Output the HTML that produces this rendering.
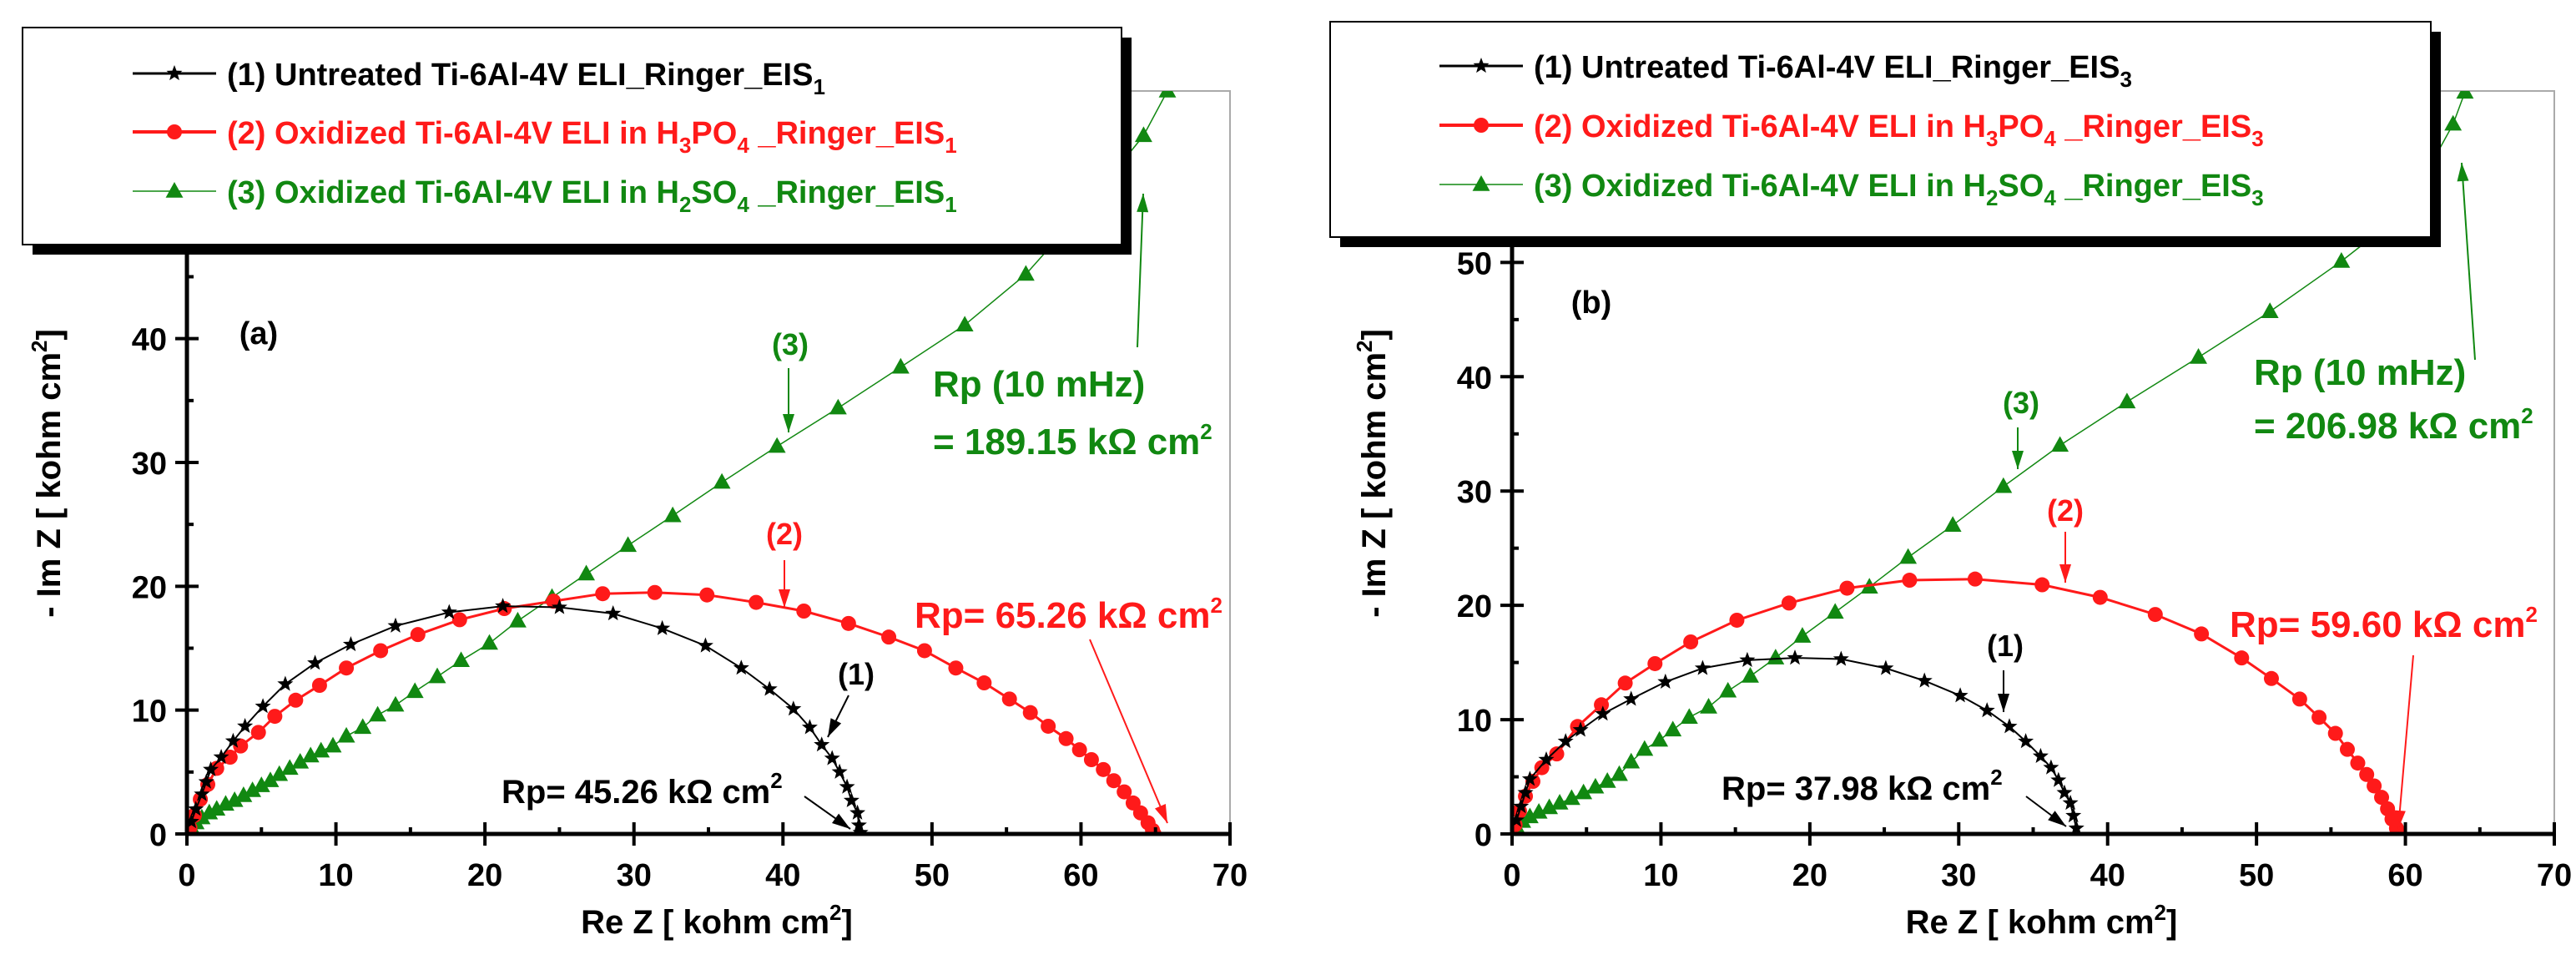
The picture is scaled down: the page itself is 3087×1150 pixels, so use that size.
<!DOCTYPE html>
<html><head><meta charset="utf-8"><style>
html,body{margin:0;padding:0;background:#fff;}
svg{display:block;font-family:"Liberation Sans",Arial,sans-serif;font-weight:bold;}
</style></head><body>
<svg id="c" width="3087" height="1150" viewBox="0 0 3087 1150"></svg>
<script>
// ---- Panel (a) data ----
const aUntreatedRe=[0.3,0.6,1.0,1.3,1.6,2.3,3.1,3.9,5.1,6.6,8.6,11.0,14.0,17.6,21.2,25.0,28.6,31.9,34.8,37.2,39.1,40.7,41.8,42.6,43.3,43.8,44.3,44.6,45.0,45.1,45.2];
const aUntreatedIm=[1.0,2.0,3.2,4.2,5.2,6.2,7.5,8.7,10.3,12.1,13.8,15.3,16.8,17.9,18.4,18.3,17.8,16.6,15.2,13.4,11.7,10.1,8.6,7.2,6.1,5.0,3.8,2.7,1.7,0.7,0.1];
const aH3PO4Re=[0.2,0.5,0.9,1.4,2.0,2.9,3.6,4.8,5.9,7.3,8.9,10.7,13.0,15.5,18.3,21.3,24.6,27.9,31.4,34.9,38.2,41.4,44.4,47.1,49.5,51.6,53.5,55.2,56.6,57.8,59.0,59.9,60.7,61.5,62.2,62.9,63.5,64.0,64.5,64.8,64.9];
const aH3PO4Im=[0.5,1.5,2.8,4.0,5.3,6.2,7.1,8.2,9.5,10.8,12.0,13.4,14.8,16.1,17.3,18.2,18.8,19.4,19.5,19.3,18.7,18.0,17.0,15.9,14.8,13.4,12.2,10.9,9.8,8.7,7.7,6.8,6.0,5.2,4.3,3.4,2.5,1.7,0.9,0.3,0.0];
const aH2SO4Re=[0.3,0.6,1.0,1.5,2.0,2.6,3.2,3.8,4.4,5.0,5.6,6.2,6.9,7.6,8.3,9.0,9.8,10.7,11.8,12.8,14.0,15.3,16.8,18.4,20.3,22.2,24.5,26.8,29.6,32.6,35.9,39.6,43.7,47.9,52.2,56.3,60.3,64.2,65.8];
const aH2SO4Im=[0.5,0.9,1.3,1.7,2.0,2.4,2.7,3.1,3.5,3.9,4.3,4.8,5.3,5.8,6.3,6.7,7.1,7.9,8.6,9.6,10.4,11.5,12.7,14.0,15.4,17.2,19.1,21.0,23.3,25.7,28.4,31.3,34.4,37.7,41.1,45.2,50.6,56.4,60.0];
// ---- Panel (b) data ----
const bUntreatedRe=[0.3,0.6,0.9,1.2,2.3,3.6,4.6,6.1,8.0,10.3,12.8,15.8,19.0,22.1,25.1,27.7,30.1,31.9,33.4,34.5,35.5,36.2,36.7,37.1,37.5,37.7,37.9];
const bUntreatedIm=[1.2,2.4,3.6,4.8,6.5,8.1,9.1,10.5,11.8,13.3,14.5,15.2,15.4,15.3,14.5,13.4,12.1,10.8,9.4,8.1,6.8,5.8,4.7,3.6,2.7,1.6,0.5];
const bH3PO4Re=[0.2,0.5,0.9,1.4,2.0,3.0,4.4,6.0,7.6,9.6,12.0,15.1,18.6,22.5,26.7,31.1,35.6,39.5,43.2,46.3,49.0,51.0,52.9,54.2,55.3,56.1,56.8,57.4,57.9,58.4,58.8,59.1,59.4,59.5];
const bH3PO4Im=[0.8,2.0,3.3,4.6,5.8,7.0,9.4,11.3,13.2,14.9,16.8,18.7,20.2,21.5,22.2,22.3,21.8,20.7,19.2,17.5,15.4,13.6,11.8,10.2,8.8,7.4,6.2,5.2,4.2,3.2,2.2,1.3,0.5,0.1];
const bH2SO4Re=[0.3,0.7,1.2,1.8,2.5,3.2,4.0,4.8,5.6,6.4,7.2,8.0,8.9,9.9,10.8,11.9,13.2,14.5,16.0,17.7,19.5,21.7,24.0,26.6,29.6,33.0,36.8,41.3,46.1,50.9,55.7,60.0,63.2,64.0];
const bH2SO4Im=[0.6,1.1,1.5,1.9,2.3,2.7,3.1,3.6,4.1,4.6,5.2,6.3,7.4,8.2,9.1,10.2,11.1,12.5,13.8,15.4,17.3,19.4,21.6,24.2,27.0,30.4,34.0,37.8,41.7,45.7,50.1,54.5,62.1,64.9];
const xTicks=[0,10,20,30,40,50,60,70];
const aYTicks=[0,10,20,30,40];
const bYTicks=[0,10,20,30,40,50];

const NS="http://www.w3.org/2000/svg";
const svg=document.getElementById('c');
function mk(tag,attrs,parent,text){const e=document.createElementNS(NS,tag);for(const k in attrs)e.setAttribute(k,attrs[k]);if(text!==undefined)e.textContent=text;(parent||svg).appendChild(e);return e;}
function star(cx,cy,r){let p=[];for(let i=0;i<10;i++){const a=-Math.PI/2+i*Math.PI/5;const rr=i%2?r*0.42:r;p.push((cx+rr*Math.cos(a)).toFixed(1)+','+(cy+rr*Math.sin(a)).toFixed(1));}return p.join(' ');}
function tri(cx,cy,r){return `${cx},${cy-r} ${cx-r*0.95},${cy+r*0.7} ${cx+r*0.95},${cy+r*0.7}`;}
function arrow(g,x1,y1,x2,y2,col){
  mk('line',{x1:x1,y1:y1,x2:x2,y2:y2,stroke:col,'stroke-width':2},g);
  const a=Math.atan2(y2-y1,x2-x1),L=22,W=7;
  const bx=x2-L*Math.cos(a),by=y2-L*Math.sin(a);
  mk('polygon',{points:`${x2},${y2} ${bx+W*Math.sin(a)},${by-W*Math.cos(a)} ${bx-W*Math.sin(a)},${by+W*Math.cos(a)}`,fill:col},g);
}
function panel(P){
  const g=mk('g',{});
  
  
  const X=v=>P.x0+(v/70)*(P.x1-P.x0);
  const Y=v=>P.y0-(v/P.ymax)*(P.y0-P.ytop);
  const cid='clip'+P.id;
  const cp=mk('clipPath',{id:cid},g);mk('rect',{x:P.x0,y:P.ytop,width:P.x1-P.x0,height:P.y0-P.ytop},cp);
  const fr=mk('rect',{x:P.x0,y:P.ytop,width:P.x1-P.x0,height:P.y0-P.ytop,fill:'none',stroke:'#aaa','stroke-width':2},g);
  
  const series=[
    {re:P.s3re,im:P.s3im,col:'#118811',w:1.5,m:'tri',name:'series-h2so4'},
    {re:P.s2re,im:P.s2im,col:'#ff1a1a',w:3,m:'circ',name:'series-h3po4'},
    {re:P.s1re,im:P.s1im,col:'#000',w:2,m:'star',name:'series-untreated'}];
  series.forEach(s=>{
    const sg=mk('g',{'clip-path':`url(#${cid})`},g);
    
    mk('polyline',{points:s.re.map((r,i)=>X(r).toFixed(1)+','+Y(s.im[i]).toFixed(1)).join(' '),fill:'none',stroke:s.col,'stroke-width':s.w},sg);
    s.re.forEach((r,i)=>{const cx=X(r),cy=Y(s.im[i]);let e;
      if(s.m==='circ')e=mk('circle',{cx:cx,cy:cy,r:9,fill:s.col},sg);
      else if(s.m==='tri')e=mk('polygon',{points:tri(cx,cy,11),fill:s.col},sg);
      else e=mk('polygon',{points:star(cx,cy,10),fill:s.col},sg);
      });
  });
  const ax=mk('g',{},g);
  mk('line',{x1:P.x0,y1:P.y0,x2:P.x1,y2:P.y0,stroke:'#000','stroke-width':5},ax);
  mk('line',{x1:P.x0,y1:P.y0,x2:P.x0,y2:P.ytop,stroke:'#000','stroke-width':5},ax);
  for(let v=0;v<=70;v+=5){const x=X(v);const maj=v%10===0;mk('line',{x1:x,y1:P.y0-(maj?14:8),x2:x,y2:P.y0+(maj?14:0),stroke:'#000','stroke-width':4},ax);}
  for(let v=0;v<=P.ymax;v+=5){const y=Y(v);const maj=v%10===0;mk('line',{x1:P.x0-(maj?14:0),y1:y,x2:P.x0+(maj?14:8),y2:y,stroke:'#000','stroke-width':4},ax);}
  xTicks.forEach(v=>{const t=mk('text',{x:X(v),y:P.y0+62,'text-anchor':'middle','font-size':38},ax,String(v));});
  P.yt.forEach(v=>{const t=mk('text',{x:P.x0-24,y:Y(v)+14,'text-anchor':'end','font-size':38},ax,String(v));});
  const xt=mk('text',{x:(P.x0+P.x1)/2+10,y:1118,'text-anchor':'middle','font-size':40},g);
  xt.innerHTML='Re Z [ kohm cm<tspan dy="-16" font-size="26">2</tspan><tspan dy="16">]</tspan>';
  
  const yt=mk('text',{x:0,y:0,'text-anchor':'middle','font-size':40,transform:`translate(${P.ytx},567) rotate(-90)`},g);
  yt.innerHTML='- Im Z [ kohm cm<tspan dy="-16" font-size="26">2</tspan><tspan dy="16">]</tspan>';
  
  const an=mk('g',{},g);
  mk('text',{x:P.lab[0],y:P.lab[1],'font-size':38,'text-anchor':'middle'},an,P.label);
  P.ann.forEach(a=>{
    const t=mk('text',{x:a.x,y:a.y,fill:a.c,'font-size':a.fs,'text-anchor':a.anc||'start'},an);
    t.innerHTML=a.t;
    
    if(a.ar)arrow(an,a.ar[0],a.ar[1],a.ar[2],a.ar[3],a.c);
  });
  const lg=mk('g',{},g);
  const L=P.leg;
  mk('rect',{x:L.x+12,y:L.y+12,width:L.w,height:L.h,fill:'#000'},lg);
  mk('rect',{x:L.x,y:L.y,width:L.w,height:L.h,fill:'#fff',stroke:'#000','stroke-width':2},lg);
  const rows=[
    {c:'#000',m:'star',w:3,t:`(1) Untreated Ti-6Al-4V ELI_Ringer_EIS<tspan dy="11" font-size="26">${P.sub}</tspan>`},
    {c:'#ff1a1a',m:'circ',w:4,t:`(2) Oxidized Ti-6Al-4V ELI in H<tspan dy="11" font-size="26">3</tspan><tspan dy="-11">PO</tspan><tspan dy="11" font-size="26">4</tspan><tspan dy="-11"> _Ringer_EIS</tspan><tspan dy="11" font-size="26">${P.sub}</tspan>`},
    {c:'#118811',m:'tri',w:1.5,t:`(3) Oxidized Ti-6Al-4V ELI in H<tspan dy="11" font-size="26">2</tspan><tspan dy="-11">SO</tspan><tspan dy="11" font-size="26">4</tspan><tspan dy="-11"> _Ringer_EIS</tspan><tspan dy="11" font-size="26">${P.sub}</tspan>`}];
  rows.forEach((r,i)=>{
    const ry=L.ry[i];
    const e=mk('g',{},lg);
    mk('line',{x1:L.lx,y1:ry,x2:L.lx+100,y2:ry,stroke:r.c,'stroke-width':r.w},e);
    if(r.m==='circ')mk('circle',{cx:L.lx+50,cy:ry,r:9,fill:r.c},e);
    else if(r.m==='tri')mk('polygon',{points:tri(L.lx+50,ry,11),fill:r.c},e);
    else mk('polygon',{points:star(L.lx+50,ry,10),fill:r.c},e);
    const t=mk('text',{x:L.lx+113,y:ry+14,'font-size':38,fill:r.c},e);t.innerHTML=r.t;
  });
}
const sup='<tspan dy="-18" font-size="26">2</tspan>';
panel({id:'a',name:'panel-a',x0:224,x1:1474,y0:999,ytop:109,ymax:60,yt:aYTicks,ytx:72,
  s1re:aUntreatedRe,s1im:aUntreatedIm,s2re:aH3PO4Re,s2im:aH3PO4Im,s3re:aH2SO4Re,s3im:aH2SO4Im,
  label:'(a)',lab:[310,412],sub:'1',
  leg:{x:27,y:33,w:1317,h:260,lx:159,ry:[88,158,229]},
  ann:[
    {t:'(3)',x:947,y:425,c:'#118811',fs:36,anc:'middle',ar:[945,441,945,518]},
    {t:'Rp (10 mHz)',x:1118,y:475,c:'#118811',fs:44},
    {t:'= 189.15 kΩ cm'+sup,x:1118,y:544,c:'#118811',fs:44,ar:[1363,416,1370,232]},
    {t:'(2)',x:940,y:652,c:'#ff1a1a',fs:36,anc:'middle',ar:[940,671,940,728]},
    {t:'Rp= 65.26 kΩ cm'+sup,x:1096,y:752,c:'#ff1a1a',fs:44,ar:[1306,766,1399,986]},
    {t:'(1)',x:1026,y:820,c:'#000',fs:36,anc:'middle',ar:[1017,833,992,883]},
    {t:'Rp= 45.26 kΩ cm'+sup,x:601,y:962,c:'#000',fs:40,ar:[964,954,1019,993]}
  ]});
panel({id:'b',name:'panel-b',x0:1812,x1:3061,y0:999,ytop:109,ymax:65,yt:bYTicks,ytx:1660,
  s1re:bUntreatedRe,s1im:bUntreatedIm,s2re:bH3PO4Re,s2im:bH3PO4Im,s3re:bH2SO4Re,s3im:bH2SO4Im,
  label:'(b)',lab:[1907,375],sub:'3',
  leg:{x:1594,y:26,w:1319,h:258,lx:1725,ry:[79,150,221]},
  ann:[
    {t:'(3)',x:2422,y:495,c:'#118811',fs:36,anc:'middle',ar:[2418,512,2418,562]},
    {t:'Rp (10 mHz)',x:2701,y:461,c:'#118811',fs:44},
    {t:'= 206.98 kΩ cm'+sup,x:2701,y:525,c:'#118811',fs:44,ar:[2966,431,2950,195]},
    {t:'(2)',x:2475,y:624,c:'#ff1a1a',fs:36,anc:'middle',ar:[2475,637,2475,698]},
    {t:'Rp= 59.60 kΩ cm'+sup,x:2672,y:763,c:'#ff1a1a',fs:44,ar:[2892,785,2874,993]},
    {t:'(1)',x:2403,y:786,c:'#000',fs:36,anc:'middle',ar:[2401,803,2401,853]},
    {t:'Rp= 37.98 kΩ cm'+sup,x:2063,y:958,c:'#000',fs:40,ar:[2428,954,2476,990]}
  ]});
</script>
</body></html>
